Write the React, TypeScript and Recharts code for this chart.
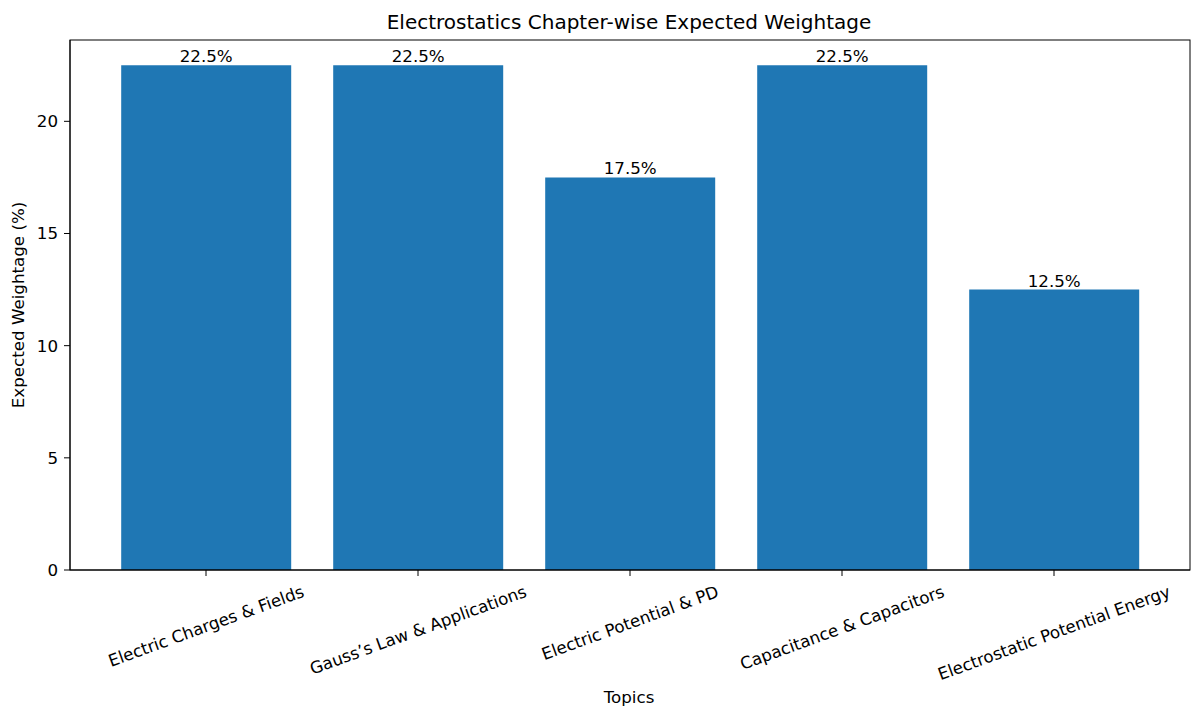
import React from "react";
import { BarChart, Bar, XAxis, YAxis, LabelList } from "recharts";

const topics = [
  "Electric Charges & Fields",
  "Gauss\u2019s Law & Applications",
  "Electric Potential & PD",
  "Capacitance & Capacitors",
  "Electrostatic Potential Energy",
];
const weightage = [22.5, 22.5, 17.5, 22.5, 12.5];
const yTicks = [0, 5, 10, 15, 20];

const data = topics.map((t, i) => ({ topic: t, value: weightage[i] }));

const FONT = "DejaVu Sans, sans-serif";
const FS = 16.7;

let ctx: CanvasRenderingContext2D | null = null;
function measure(s: string): number {
  if (!ctx) {
    const c = document.createElement("canvas");
    ctx = c.getContext("2d");
  }
  if (ctx) {
    ctx.font = `${FS}px "DejaVu Sans"`;
    return ctx.measureText(s).width;
  }
  return s.length * 9.4;
}

const RotTick = (props: any) => {
  const { x, y, payload } = props;
  const label = String(payload.value);
  const w = measure(label);
  const h = FS * 1.1;
  const a = (20 * Math.PI) / 180;
  const bboxH = w * Math.sin(a) + h * Math.cos(a);
  const cy = y + 4 + bboxH / 2;
  return (
    <g>
      <line x1={x} x2={x} y1={y - 8} y2={y - 2} stroke="#000" strokeWidth={1} />
      <text
        x={x}
        y={cy}
        textAnchor="middle"
        dominantBaseline="central"
        transform={`rotate(-20, ${x}, ${cy})`}
        fontFamily={FONT}
        fontSize={FS}
        fill="#000"
      >
        {label}
      </text>
    </g>
  );
};

export default function App() {
  return (
    <div style={{ position: "absolute", left: 0, top: 0, width: 1200, height: 719, background: "#fff" }}>
      <div style={{ position: "absolute", left: 0, top: 0 }}>
        <BarChart
          width={1200}
          height={719}
          data={data}
          margin={{ top: 40, right: 10, left: 0, bottom: 0 }}
          barCategoryGap="10%"
        >
          <XAxis
            dataKey="topic"
            interval={0}
            padding={{ left: 30, right: 30 }}
            axisLine={{ stroke: "#000", strokeWidth: 1 }}
            tickLine={false}
            tick={<RotTick />}
            tickSize={8}
            tickMargin={0}
            height={149}
          />
          <YAxis
            width={70}
            domain={[0, 23.625]}
            ticks={yTicks}
            axisLine={{ stroke: "#000", strokeWidth: 1 }}
            tickLine={{ stroke: "#000" }}
            tickSize={6}
            tickMargin={6}
            tick={{ fontFamily: FONT, fontSize: FS, fill: "#000" }}
          />
          <Bar dataKey="value" fill="#1f77b4" isAnimationActive={false}>
            <LabelList
              dataKey="value"
              position="top"
              offset={3}
              formatter={(v: any) => `${Number(v).toFixed(1)}%`}
              style={{ fontFamily: FONT, fontSize: FS, fill: "#000" }}
            />
          </Bar>
        </BarChart>
      </div>
      <svg width={1200} height={719} style={{ position: "absolute", left: 0, top: 0, pointerEvents: "none" }}>
        <rect x={70} y={40} width={1120} height={530} fill="none" stroke="#000" strokeWidth={1} />
        <text x={629} y={29} textAnchor="middle" fontFamily={FONT} fontSize={20} fill="#000">
          Electrostatics Chapter-wise Expected Weightage
        </text>
        <text x={629} y={703} textAnchor="middle" fontFamily={FONT} fontSize={FS} fill="#000">
          Topics
        </text>
        <text
          x={24}
          y={305}
          textAnchor="middle"
          transform="rotate(-90, 24, 305)"
          fontFamily={FONT}
          fontSize={FS}
          fill="#000"
        >
          Expected Weightage (%)
        </text>
      </svg>
    </div>
  );
}
